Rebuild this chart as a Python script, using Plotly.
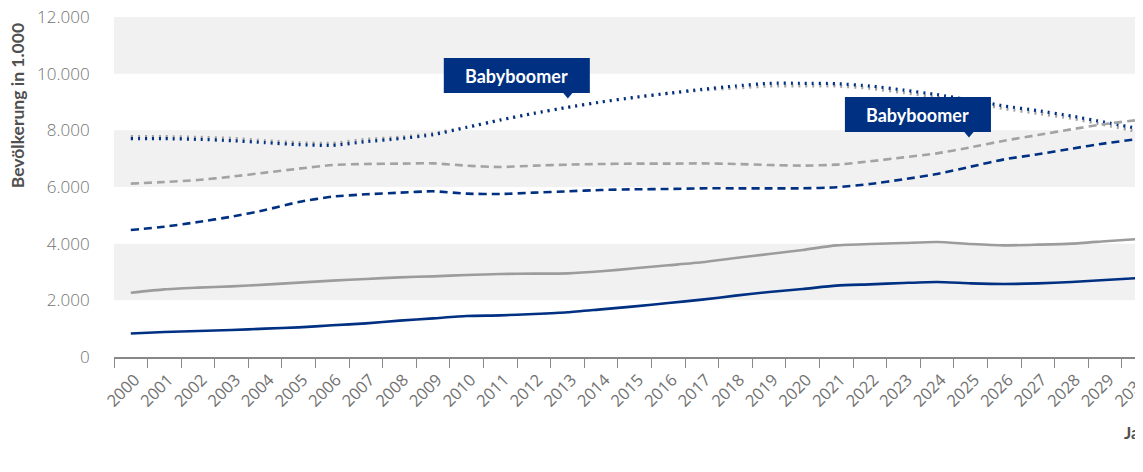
import plotly.graph_objects as go

years = [str(y) for y in range(2000, 2031)]

blue_solid = [830, 882, 918, 953, 1000, 1047, 1118, 1188, 1283, 1365, 1447, 1470, 1518, 1577, 1682,
              1788, 1906, 2024, 2165, 2294, 2400, 2518, 2565, 2612, 2647, 2600, 2577, 2600, 2647, 2718, 2788]
gray_solid = [2270, 2388, 2447, 2494, 2553, 2624, 2694, 2753, 2812, 2847, 2894, 2930, 2941, 2953, 3024,
              3130, 3236, 3342, 3494, 3635, 3776, 3941, 3988, 4024, 4059, 3988, 3941, 3965, 4000, 4083, 4165]
blue_dashed = [4482, 4600, 4765, 4953, 5189, 5471, 5659, 5742, 5800, 5848, 5765, 5753, 5800, 5848, 5894,
               5918, 5930, 5953, 5953, 5953, 5953, 5989, 6106, 6271, 6459, 6718, 6977, 7153, 7353, 7541, 7694]
gray_dashed = [6118, 6177, 6248, 6365, 6506, 6647, 6777, 6812, 6824, 6835, 6753, 6706, 6753, 6788, 6812,
               6824, 6824, 6835, 6812, 6777, 6753, 6788, 6906, 7047, 7188, 7400, 7635, 7835, 8036, 8224, 8365]
blue_dotted = [7706, 7706, 7682, 7635, 7565, 7494, 7470, 7600, 7706, 7847, 8107, 8365, 8600, 8812, 9000,
               9165, 9306, 9447, 9565, 9660, 9660, 9647, 9565, 9424, 9259, 9070, 8860, 8694, 8506, 8284, 8059]
gray_dotted = [7776, 7776, 7753, 7718, 7635, 7565, 7541, 7682, 7753, 7894, 8107, 8365, 8600, 8812, 9000,
               9165, 9306, 9420, 9494, 9565, 9565, 9565, 9482, 9330, 9165, 9000, 8765, 8600, 8424, 8188, 7953]

y_tick_vals = [0, 2000, 4000, 6000, 8000, 10000, 12000]
y_tick_labels = ["0", "2.000", "4.000", "6.000", "8.000", "10.000", "12.000"]
bands = [(2000, 4000), (6000, 8000), (10000, 12000)]

BLUE = "#003082"
GRAY = "#a3a3a3"
GRAY_SOLID = "#9c9c9c"
FONT = "Open Sans"
BOLD_FONT = "Lato"

# page (screenshot) geometry; the html body adds an 8px offset
OFF = 8
PAGE_W, PAGE_H = 1143, 472
PLOT_L, PLOT_T, PLOT_B = 114.3, 17, 357
W, H = PAGE_W - OFF, PAGE_H - OFF
L = PLOT_L - OFF
T = PLOT_T - OFF
B = H - (PLOT_B - OFF)
PW = W - L
PH = H - T - B


def px(xp):
    return (xp - PLOT_L) / PW


def py(yp):
    return (PLOT_B - yp) / PH


fig = go.Figure()

series = [
    (gray_dotted, GRAY, "2px,5px", 3.2),
    (blue_dotted, BLUE, "2px,5px", 3.2),
    (gray_dashed, GRAY, "8px,5px", 2.6),
    (blue_dashed, BLUE, "8px,5px", 2.6),
    (gray_solid, GRAY_SOLID, "solid", 2.6),
    (blue_solid, BLUE, "solid", 2.6),
]
for vals, col, dash, w in series:
    fig.add_trace(go.Scatter(
        x=years, y=vals, mode="lines",
        line=dict(color=col, dash=dash, width=w, shape="spline", smoothing=0.6),
        hoverinfo="skip", showlegend=False,
    ))

for y0, y1 in bands:
    fig.add_shape(type="rect", xref="paper", yref="y", x0=0, x1=1, y0=y0, y1=y1,
                  fillcolor="#f1f1f1", line=dict(width=0), layer="below")

# Babyboomer callouts
boxes = [((444, 58, 590, 93), (563, 573, 568, 98.5)),
         ((845, 97, 991, 132), (964, 974, 969, 137.5))]
for (x0, y0, x1, y1), (tx0, tx1, tax, tay) in boxes:
    fig.add_shape(type="rect", xref="paper", yref="paper",
                  x0=px(x0), x1=px(x1), y0=py(y1), y1=py(y0),
                  fillcolor=BLUE, line=dict(width=0), layer="above")
    fig.add_shape(type="path", xref="paper", yref="paper",
                  path=f"M {px(tx0)} {py(y1 - 0.5)} L {px(tx1)} {py(y1 - 0.5)} L {px(tax)} {py(tay)} Z",
                  fillcolor=BLUE, line=dict(width=0), layer="above")
    fig.add_annotation(xref="paper", yref="paper", x=px((x0 + x1) / 2), y=py((y0 + y1) / 2),
                       text="<b>Babyboomer</b>", showarrow=False,
                       font=dict(family=BOLD_FONT, size=18, color="white"),
                       xanchor="center", yanchor="middle")

fig.add_annotation(xref="paper", yref="paper", x=px(18), y=py(21),
                   text="<b>Bevölkerung in 1.000</b>", textangle=-90, showarrow=False,
                   font=dict(family=BOLD_FONT, size=17.5, color="#505050"),
                   xanchor="center", yanchor="top")
fig.add_annotation(xref="paper", yref="paper", x=px(1122), y=py(432),
                   text="<b>Jahr</b>", showarrow=False,
                   font=dict(family=BOLD_FONT, size=17, color="#505050"),
                   xanchor="left", yanchor="middle")

fig.update_layout(
    width=W, height=H,
    margin=dict(l=L, r=0, t=T, b=B, pad=0, autoexpand=False),
    paper_bgcolor="white", plot_bgcolor="white",
    showlegend=False,
    font=dict(family=FONT, color="#6b6b6b"),
)
fig.update_xaxes(
    type="category", range=[-0.5, 30.13], automargin=False,
    tickson="boundaries", ticks="outside", ticklen=9, tickcolor="#888888", tickwidth=1.3,
    showline=True, linecolor="#888888", linewidth=1.5,
    showgrid=False, zeroline=False, ticklabeloverflow="allow",
    ticklabelstandoff=5, ticklabelshift=4,
    tickangle=-45, tickfont=dict(family=FONT, size=16.5, color="#727272"),
)
fig.update_yaxes(
    range=[0, 12000], tickvals=y_tick_vals, ticktext=y_tick_labels, automargin=False,
    showgrid=False, zeroline=False, showline=False, ticklabeloverflow="allow",
    ticks="outside", ticklen=20, tickcolor="rgba(0,0,0,0)",
    tickfont=dict(family=FONT, size=17, color="#727272", weight=300),
)

fig.write_html("out.html")
